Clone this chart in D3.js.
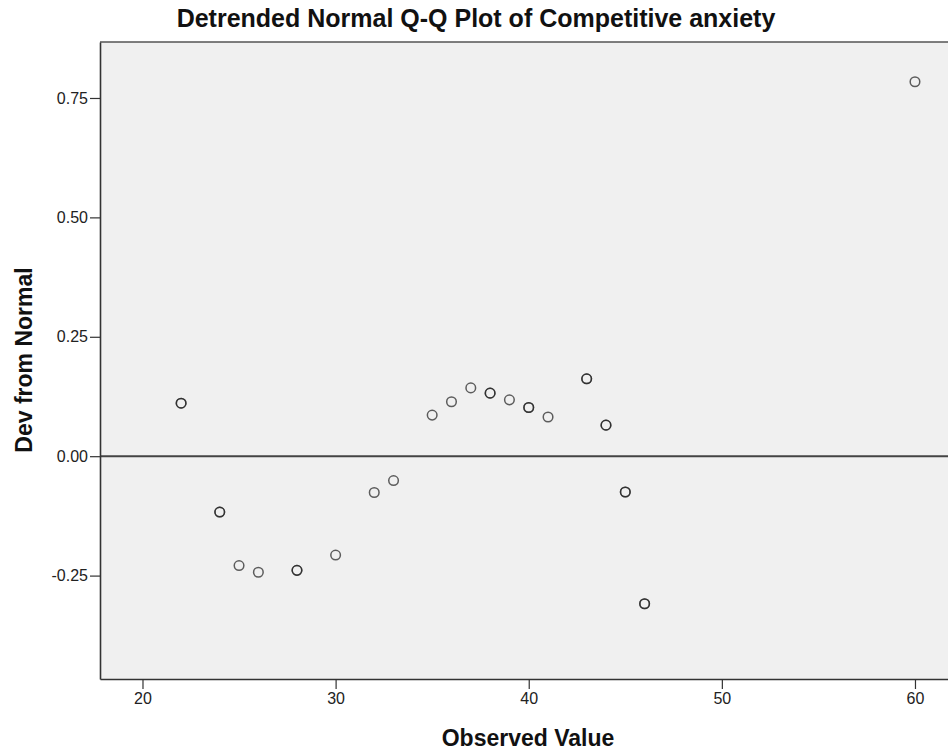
<!DOCTYPE html>
<html>
<head>
<meta charset="utf-8">
<script src="https://cdn.jsdelivr.net/npm/d3@7"></script>
<style>
  body { margin: 0; background: #fff; }
  svg { display: block; font-family: "Liberation Sans", Arial, sans-serif; }
</style>
</head>
<body>
<div id="chart"></div>
<script>
const observed = [22, 24, 25, 26, 28, 30, 32, 33, 35, 36, 37, 38, 39, 40, 41, 43, 44, 45, 46, 60];
const devFromNormal = [0.111, -0.117, -0.229, -0.243, -0.239, -0.207, -0.076, -0.051, 0.086, 0.114,
                       0.143, 0.132, 0.118, 0.102, 0.082, 0.162, 0.065, -0.075, -0.309, 0.784];
// number of cases at each value (overlapping markers look darker)
const cases = [2, 2, 1, 1, 2, 1, 1, 1, 1, 1, 1, 2, 1, 2, 1, 2, 2, 2, 2, 1];
const xTicks = [20, 30, 40, 50, 60];
const yTicks = [-0.25, 0.00, 0.25, 0.50, 0.75];

const width = 948, height = 756;
const margin = { top: 42, right: 0, bottom: 77, left: 100 };

const svg = d3.select('#chart')
  .append('svg')
  .attr('width', width)
  .attr('height', height);

const x = d3.scaleLinear()
  .domain([17.8, 61.71])
  .range([margin.left, width - margin.right]);

const y = d3.scaleLinear()
  .domain([-0.4665, 0.8672])
  .range([height - margin.bottom, margin.top]);

// plot background
svg.append('rect')
  .attr('x', margin.left)
  .attr('y', margin.top)
  .attr('width', width - margin.left + 20)
  .attr('height', height - margin.bottom - margin.top)
  .attr('fill', '#f0f0f0');

// top frame line
svg.append('line')
  .attr('x1', margin.left).attr('x2', width)
  .attr('y1', margin.top).attr('y2', margin.top)
  .attr('stroke', '#555').attr('stroke-width', 1.5);

// reference line at zero
svg.append('line')
  .attr('x1', margin.left).attr('x2', width)
  .attr('y1', y(0)).attr('y2', y(0))
  .attr('stroke', '#444').attr('stroke-width', 2);

// SPSS prints a plain hyphen for negatives
const fmtY = d => d3.format('.2f')(d).replace('\u2212', '-');

const xAxis = svg.append('g')
  .attr('class', 'axis axis--x')
  .attr('transform', `translate(0,${height - margin.bottom})`)
  .call(d3.axisBottom(x).tickValues(xTicks).tickSizeInner(10).tickSizeOuter(0).tickPadding(4).tickFormat(d3.format('d')));

const yAxis = svg.append('g')
  .attr('class', 'axis axis--y')
  .attr('transform', `translate(${margin.left},0)`)
  .call(d3.axisLeft(y).tickValues(yTicks).tickSizeInner(10).tickSizeOuter(0).tickPadding(2).tickFormat(fmtY));

[xAxis, yAxis].forEach(g => {
  g.select('.domain').attr('stroke', '#333').attr('stroke-width', 1.6);
  g.selectAll('.tick line').attr('stroke', '#333').attr('stroke-width', 1.2);
  g.selectAll('.tick text')
    .attr('fill', '#222')
    .style('font-size', '16px')
    .style('font-family', '"Liberation Sans", Arial, sans-serif');
});

// points, drawn once per case so repeated values come out darker
const points = [];
observed.forEach((v, i) => {
  for (let k = 0; k < cases[i]; k++) points.push({ v, d: devFromNormal[i] });
});

svg.append('g')
  .selectAll('circle')
  .data(points)
  .enter()
  .append('circle')
  .attr('cx', p => x(p.v))
  .attr('cy', p => y(p.d))
  .attr('r', 4.8)
  .attr('fill', 'none')
  .attr('stroke', '#222')
  .attr('stroke-opacity', 0.72)
  .attr('stroke-width', 1.5);

// title and axis titles
svg.append('text')
  .attr('x', 476)
  .attr('y', 27)
  .attr('text-anchor', 'middle')
  .style('font-size', '25px')
  .style('font-weight', 'bold')
  .attr('fill', '#111')
  .text('Detrended Normal Q-Q Plot of Competitive anxiety');

svg.append('text')
  .attr('x', 528)
  .attr('y', 746)
  .attr('text-anchor', 'middle')
  .style('font-size', '23px')
  .style('font-weight', 'bold')
  .attr('fill', '#111')
  .text('Observed Value');

svg.append('text')
  .attr('transform', `translate(32,${360}) rotate(-90)`)
  .attr('text-anchor', 'middle')
  .style('font-size', '23px')
  .style('font-weight', 'bold')
  .attr('fill', '#111')
  .text('Dev from Normal');
</script>
</body>
</html>
